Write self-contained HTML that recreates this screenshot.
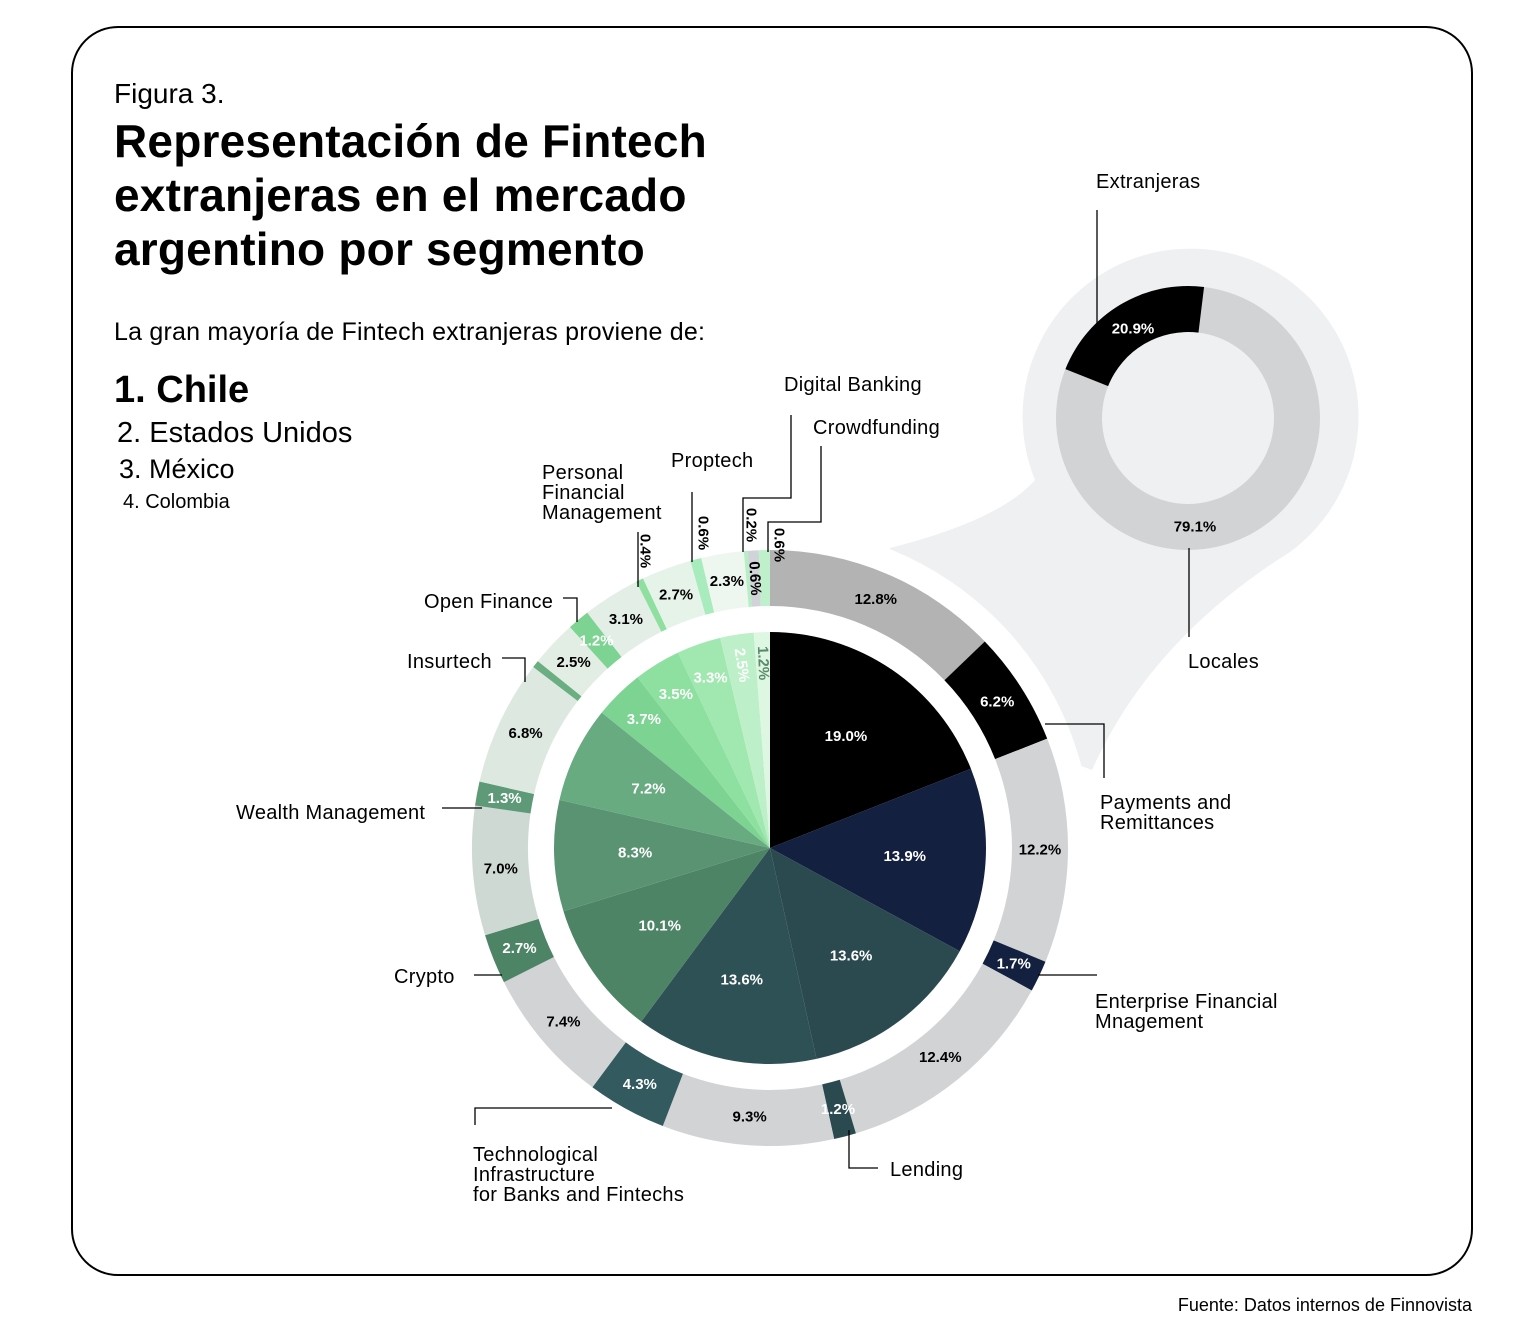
<!DOCTYPE html>
<html><head><meta charset="utf-8"><style>
html,body{margin:0;padding:0;background:#fff;}
svg{display:block;font-family:"Liberation Sans",sans-serif;}
</style></head><body>
<svg id="s" width="1524" height="1326" viewBox="0 0 1524 1326" xmlns="http://www.w3.org/2000/svg">
<rect x="0" y="0" width="1524" height="1326" fill="#fff"/>
<rect x="72" y="27" width="1400" height="1248" rx="46" fill="#fff" stroke="#000" stroke-width="2"/>
<text x="114" y="103" font-size="28">Figura 3.</text>
<g font-size="46" font-weight="bold" letter-spacing="0.2">
<text x="114" y="157">Representación de Fintech</text>
<text x="114" y="211">extranjeras en el mercado</text>
<text x="114" y="265">argentino por segmento</text>
</g>
<text x="114" y="340" font-size="25" letter-spacing="0.2">La gran mayoría de Fintech extranjeras proviene de:</text>
<text x="114" y="402" font-size="38" font-weight="bold">1. Chile</text>
<text x="117" y="442" font-size="29">2. Estados Unidos</text>
<text x="119" y="478" font-size="27">3. México</text>
<text x="123" y="508" font-size="20">4. Colombia</text>
<text x="1472" y="1311" font-size="18" text-anchor="end">Fuente: Datos internos de Finnovista</text>

<path d="M890,548 Q1000,520 1035,480 A168,168 0 1 1 1290,552 Q1150,640 1092,770 L900,700 Z" fill="#eff0f1"/>
<circle cx="770" cy="848" r="322" fill="#fff"/>
<g id="pie"></g>
<g id="donut"></g>

<g stroke="#000" stroke-width="1.3" fill="none">
<polyline points="1097,210 1097,325"/>
<polyline points="1189,548 1189,637"/>
<polyline points="791,415 791,498 743,498 743,552"/>
<polyline points="821,446 821,522 768,522 768,552"/>
<polyline points="692,492 692,562"/>
<polyline points="638,532 638,587"/>
<polyline points="563,598 577,598 577,622"/>
<polyline points="502,658 525,658 525,682"/>
<polyline points="442,808 482,808"/>
<polyline points="474,975 502,975"/>
<polyline points="475,1125 475,1108 612,1108"/>
<polyline points="849,1130 849,1168 878,1168"/>
<polyline points="1038,975 1097,975"/>
<polyline points="1045,724 1104,724 1104,778"/>
</g>
<g font-size="20" letter-spacing="0.3">
<text x="1096" y="188">Extranjeras</text>
<text x="1188" y="668">Locales</text>
<text x="784" y="391">Digital Banking</text>
<text x="813" y="434">Crowdfunding</text>
<text x="671" y="467">Proptech</text>
<text x="542" y="479">Personal</text>
<text x="542" y="499">Financial</text>
<text x="542" y="519">Management</text>
<text x="424" y="608">Open Finance</text>
<text x="407" y="668">Insurtech</text>
<text x="236" y="819">Wealth Management</text>
<text x="394" y="983">Crypto</text>
<text x="473" y="1161">Technological</text>
<text x="473" y="1181">Infrastructure</text>
<text x="473" y="1201">for Banks and Fintechs</text>
<text x="890" y="1176">Lending</text>
<text x="1095" y="1008">Enterprise Financial</text>
<text x="1095" y="1028">Mnagement</text>
<text x="1100" y="809">Payments and</text>
<text x="1100" y="829">Remittances</text>
</g>
<g font-size="15" font-weight="bold">
<text x="779" y="545" transform="rotate(90 779 545)" text-anchor="middle" dominant-baseline="central">0.6%</text>
<text x="751" y="525" transform="rotate(90 751 525)" text-anchor="middle" dominant-baseline="central">0.2%</text>
<text x="703" y="533" transform="rotate(90 703 533)" text-anchor="middle" dominant-baseline="central">0.6%</text>
<text x="645" y="551" transform="rotate(90 645 551)" text-anchor="middle" dominant-baseline="central">0.4%</text>
</g>
</svg>
<script>
var NS="http://www.w3.org/2000/svg";
function el(p,t,a){var e=document.createElementNS(NS,t);for(var k in a)e.setAttribute(k,a[k]);p.appendChild(e);return e;}
function pt(cx,cy,r,a){return [cx+r*Math.sin(a),cy-r*Math.cos(a)];}
function arc(cx,cy,r0,r1,a0,a1){var L=(a1-a0)>Math.PI?1:0;var p1=pt(cx,cy,r1,a0),p2=pt(cx,cy,r1,a1),p3=pt(cx,cy,r0,a1),p4=pt(cx,cy,r0,a0);
 if(r0<=0)return "M"+cx+","+cy+"L"+p1+"A"+r1+","+r1+" 0 "+L+" 1 "+p2+"Z";
 return "M"+p1+"A"+r1+","+r1+" 0 "+L+" 1 "+p2+"L"+p3+"A"+r0+","+r0+" 0 "+L+" 0 "+p4+"Z";}
function label(g,x,y,txt,col,rot,fs){var t=el(g,"text",{x:x,y:y,"text-anchor":"middle","dominant-baseline":"central","font-size":fs||15,fill:col,"font-weight":"bold"});
 if(rot)t.setAttribute("transform","rotate("+rot+" "+x+" "+y+")");t.textContent=txt;}
var cx=770,cy=848,g=document.getElementById("pie");
var inner=[[19.0,"#000","#fff"],[13.9,"#13203f","#fff"],[13.6,"#2b4a50","#fff"],[13.6,"#2e5155","#fff"],[10.1,"#4e8466","#fff"],[8.3,"#5a9372","#fff"],[7.2,"#68ab80","#fff"],[3.7,"#7dd392","#fff"],[3.5,"#8ee0a0","#fff"],[3.3,"#a0e8b0","#fff"],[2.5,"#bdf0c8","#fff"],[1.2,"#ddf7e3","#5a8a6a"]];
var tot=0;inner.forEach(function(d){tot+=d[0];});
var a=0;inner.forEach(function(d){var s=d[0]/tot*2*Math.PI;el(g,"path",{d:arc(cx,cy,0,216,a,a+s),fill:d[1]});
 var m=a+s/2,r=d[0]<5?180:135;if(d[0]<3)r=185;var p=pt(cx,cy,r,m);
 label(g,p[0],p[1],d[0].toFixed(1)+"%",d[2],d[0]<3?(m*180/Math.PI+90):0);a+=s;});
var outer=[[12.8,"#b3b3b3","#000"],[6.2,"#000","#fff"],[12.2,"#d1d3d5","#000"],[1.7,"#13203f","#fff"],[12.4,"#d1d3d5","#000"],[1.2,"#2b4a50","#fff"],[9.3,"#d1d3d5","#000"],[4.3,"#335a5e","#fff"],[7.4,"#d1d3d5","#000"],[2.7,"#4e8466","#fff"],[7.0,"#cfd9d3","#000"],[1.3,"#5f9a78","#fff"],[6.8,"#dde9e0","#000"],[0.4,"#6aae82","#fff",1],[2.5,"#e2ede4","#000"],[1.2,"#7dd392","#fff"],[3.1,"#e3efe6","#000"],[0.4,"#8fe0a0","#000",1],[2.7,"#e6f3e9","#000"],[0.6,"#a8ecbd","#000",1],[2.3,"#eef6f0","#000"],[0.2,"#b5efc4","#000",1],[0.6,"#d0d4d8","#000"],[0.6,"#bff0cc","#000",1]];
tot=0;outer.forEach(function(d){tot+=d[0];});
a=0;outer.forEach(function(d){var s=d[0]/tot*2*Math.PI;el(g,"path",{d:arc(cx,cy,242,298,a,a+s),fill:d[1]});a+=s;});
a=0;outer.forEach(function(d){var s=d[0]/tot*2*Math.PI,m=a+s/2;
 if(!d[3]){var p=pt(cx,cy,270,m);label(g,p[0],p[1],d[0].toFixed(1)+"%",d[2],d[0]<1?(m*180/Math.PI+90):0);}
 a+=s;});
var dg=document.getElementById("donut"),dx=1188,dy=418,off=7*Math.PI/180;
el(dg,"path",{d:arc(dx,dy,86,132,off,off+2*Math.PI*0.791),fill:"#d1d3d5"});
el(dg,"path",{d:arc(dx,dy,86,132,off+2*Math.PI*0.791,off+2*Math.PI-0.0001),fill:"#000"});
label(dg,1133,329,"20.9%","#fff",0);
label(dg,1195,527,"79.1%","#000",0);
</script>
</body></html>
